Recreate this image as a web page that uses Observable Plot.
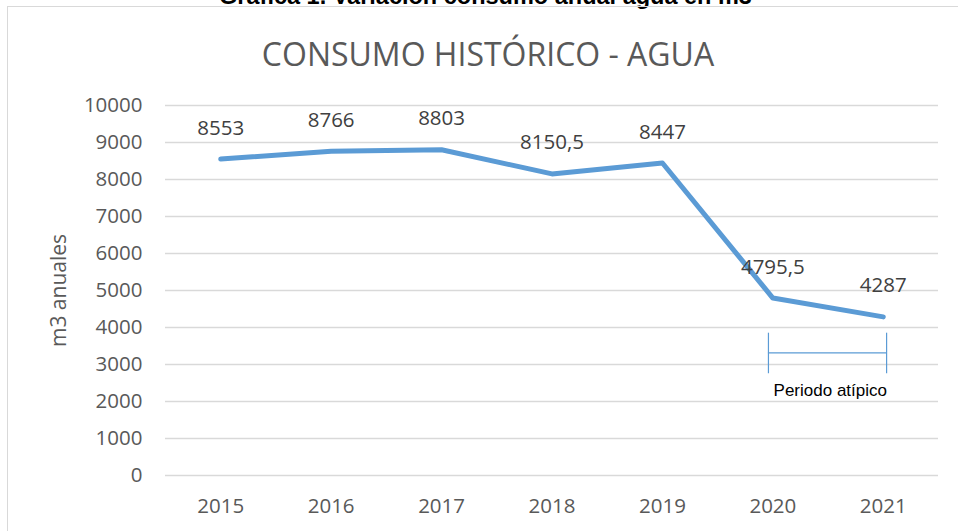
<!DOCTYPE html>
<html>
<head>
<meta charset="utf-8">
<script src="https://cdn.jsdelivr.net/npm/d3@7"></script>
<script src="https://cdn.jsdelivr.net/npm/@observablehq/plot@0.6"></script>
<style>
  html, body { margin: 0; padding: 0; background: #fff; }
  #wrap { position: relative; width: 958px; height: 531px; overflow: hidden; }
  #border { position: absolute; left: 7px; top: 6px; right: -10px; bottom: -10px;
            border-left: 1.5px solid #d9d9d9; border-top: 1.5px solid #d9d9d9; pointer-events: none; }
</style>
</head>
<body>
<div id="wrap"><div id="border"></div></div>
<script>
const years = [2015, 2016, 2017, 2018, 2019, 2020, 2021];
const consumo = [8553, 8766, 8803, 8150.5, 8447, 4795.5, 4287];
const yTicks = [0, 1000, 2000, 3000, 4000, 5000, 6000, 7000, 8000, 9000, 10000];
const titleText = "CONSUMO HISTÓRICO - AGUA";
const figureText = "Gráfica 1. Variación consumo anual agua en m3";
const yLabelText = "m3 anuales";
const noteText = "Periodo atípico";
const bracketX = [2019.96, 2021.03];
const bracketY = [2750, 3316, 3846];
const noteX = 2020.52, noteY = 2297;

const data = years.map((y, i) => ({year: y, value: consumo[i]}));
const fmt = v => String(v).replace(".", ",");

const chart = Plot.plot({
  width: 958,
  height: 531,
  marginLeft: 165,
  marginRight: 20,
  marginTop: 105,
  marginBottom: 56,
  style: {fontFamily: "'Open Sans', sans-serif", fontSize: "20.5px", color: "#595959", background: "transparent"},
  x: {type: "linear", domain: [2014.5, 2021.5], ticks: years, tickFormat: d => String(d)},
  y: {domain: [0, 10000], ticks: yTicks},
  marks: [
    Plot.gridY(yTicks, {stroke: "#d9d9d9", strokeOpacity: 1, strokeWidth: 1.3}),
    Plot.axisX({ticks: years, tickSize: 0, tickPadding: 23, label: null, tickFormat: d => String(d), fill: "#595959"}),
    Plot.axisY({ticks: yTicks, tickSize: 0, tickPadding: 23, label: null, tickFormat: d => String(d), fill: "#595959"}),
    Plot.line(data, {x: "year", y: "value", stroke: "#5B9BD5", strokeWidth: 5, strokeLinejoin: "round", strokeLinecap: "round"}),
    Plot.text(data, {x: "year", y: "value", text: d => fmt(d.value), dy: -31, fill: "#404040", fontSize: 20.5}),
    // "Periodo atípico" bracket
    Plot.ruleX(bracketX, {y1: bracketY[0], y2: bracketY[2], stroke: "#5B9BD5", strokeWidth: 1.2}),
    Plot.ruleY([bracketY[1]], {x1: bracketX[0], x2: bracketX[1], stroke: "#5B9BD5", strokeWidth: 1.2}),
    Plot.text([noteText], {x: noteX, y: noteY, text: d => d, fill: "#000", fontFamily: "'Liberation Sans', Arial, sans-serif", fontSize: 17}),
    // y axis label
    Plot.text([yLabelText], {frameAnchor: "left", textAnchor: "middle", lineAnchor: "middle", text: d => d, rotate: -90, dx: -106, fill: "#595959", fontSize: 21}),
    // chart title
    Plot.text([titleText], {frameAnchor: "top", textAnchor: "middle", lineAnchor: "middle", text: d => d, dx: -64, dy: -49.5, fill: "#595959", fontSize: 32}),
    // figure caption (clipped at top, as in the reference)
    Plot.text([figureText], {frameAnchor: "top", textAnchor: "middle", lineAnchor: "middle", text: d => d, dx: -66.5, dy: -109, fill: "#000", fontWeight: "bold", fontFamily: "'Liberation Sans', Arial, sans-serif", fontSize: 23.5})
  ]
});
chart.style.position = "absolute";
chart.style.left = "0px";
chart.style.top = "0px";
document.getElementById("wrap").prepend(chart);
</script>
</body>
</html>
